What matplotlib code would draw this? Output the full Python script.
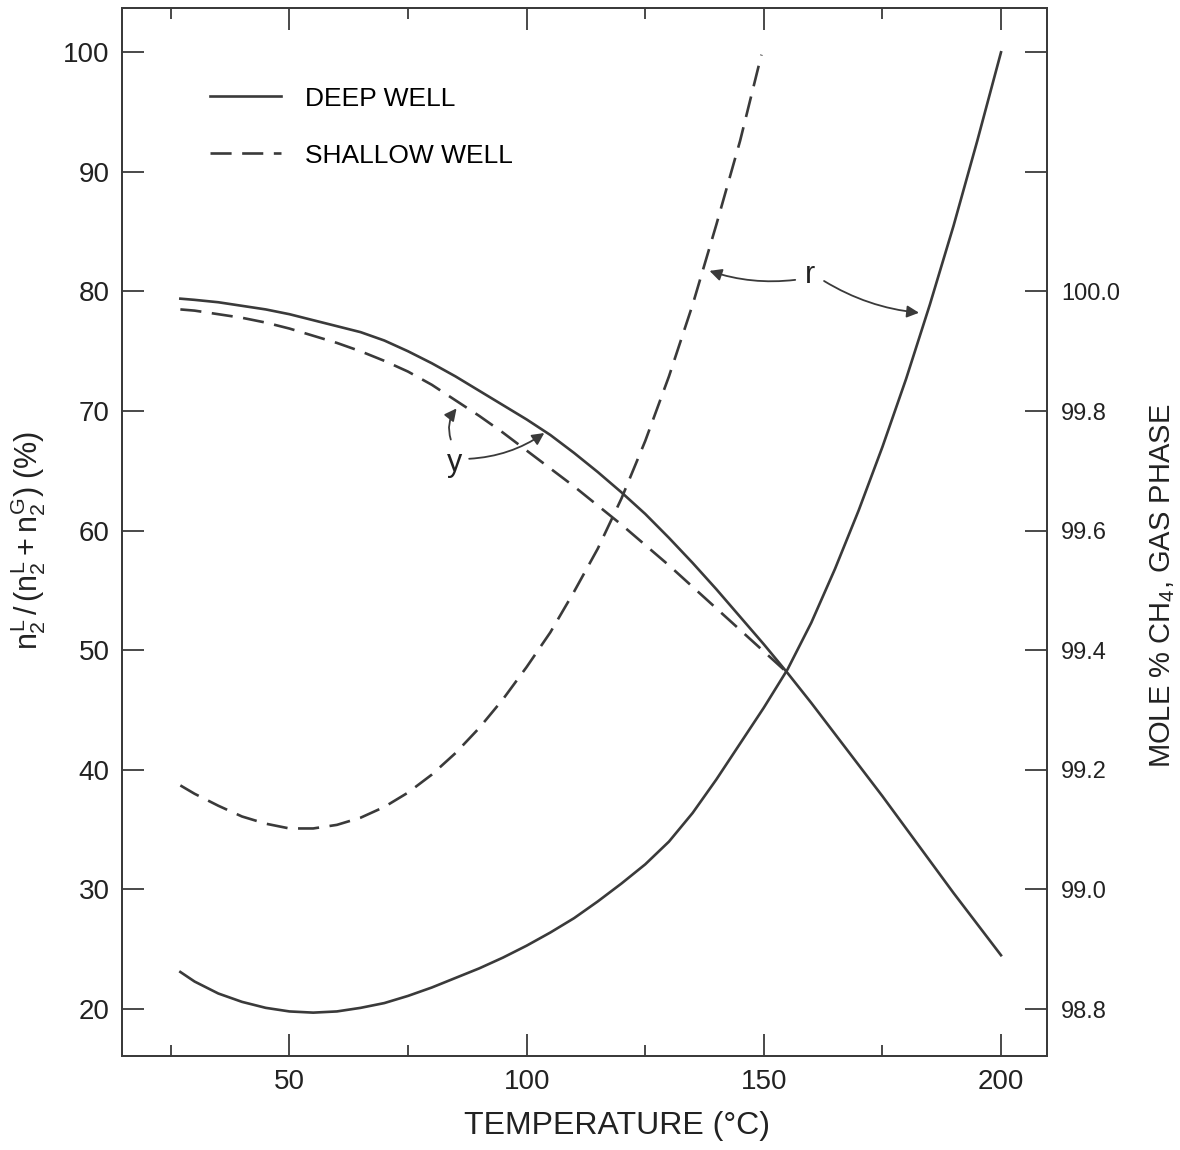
import numpy as np
from matplotlib import pyplot as plt

plt.rcParams['font.family'] = ['Liberation Sans', 'DejaVu Sans']
plt.rcParams['mathtext.fontset'] = 'custom'
plt.rcParams['mathtext.rm'] = 'Liberation Sans'
plt.rcParams['mathtext.it'] = 'Liberation Sans'

# y : fraction of component 2 in liquid (%), left axis
deep_y_t = [27, 30, 35, 40, 45, 50, 55, 60, 65, 70, 75, 80, 85, 90, 95, 100, 105, 110, 115, 120,
            125, 130, 135, 140, 145, 150, 155, 160, 165, 170, 175, 180, 185, 190, 195, 200]
deep_y = [79.4, 79.3, 79.1, 78.8, 78.5, 78.1, 77.6, 77.1, 76.6, 75.9, 75.0, 74.0, 72.9, 71.7, 70.5, 69.3,
          68.0, 66.5, 64.9, 63.2, 61.4, 59.4, 57.3, 55.1, 52.8, 50.5, 48.1, 45.6, 43.0, 40.4, 37.8,
          35.1, 32.4, 29.7, 27.1, 24.5]
shallow_y_t = [27, 30, 35, 40, 45, 50, 55, 60, 65, 70, 75, 80, 85, 90, 95, 100, 105, 110, 115, 120,
               125, 130, 135, 140, 145, 150, 155]
shallow_y = [78.5, 78.4, 78.1, 77.8, 77.4, 76.9, 76.3, 75.7, 75.0, 74.2, 73.3, 72.2, 70.9, 69.6, 68.2,
             66.7, 65.2, 63.7, 62.1, 60.5, 58.8, 57.1, 55.3, 53.5, 51.7, 49.9, 48.1]

# r : mole % CH4 in gas phase, right axis
deep_r_t = [27, 30, 35, 40, 45, 50, 55, 60, 65, 70, 75, 80, 85, 90, 95, 100, 105, 110, 115, 120,
            125, 130, 135, 140, 145, 150, 155, 160, 165, 170, 175, 180, 185, 190, 195, 200]
deep_r = [98.862, 98.846, 98.826, 98.812, 98.802, 98.796, 98.794, 98.796, 98.802, 98.810, 98.822,
          98.836, 98.852, 98.868, 98.886, 98.906, 98.928, 98.952, 98.980, 99.010, 99.042, 99.080,
          99.128, 99.184, 99.244, 99.304, 99.368, 99.446, 99.536, 99.634, 99.740, 99.854, 99.978,
          100.110, 100.252, 100.400]
shallow_r_t = [27, 30, 35, 40, 45, 50, 55, 60, 65, 70, 75, 80, 85, 90, 95, 100, 105, 110, 115, 120,
               125, 130, 135, 140, 145, 149.5]
shallow_r = [99.174, 99.160, 99.140, 99.122, 99.110, 99.102, 99.102, 99.108, 99.120, 99.138, 99.162,
             99.192, 99.228, 99.270, 99.318, 99.372, 99.430, 99.498, 99.570, 99.654, 99.750, 99.858,
             99.978, 100.112, 100.252, 100.396]

left_ticks = [20, 30, 40, 50, 60, 70, 80, 90, 100]
right_ticks = [98.8, 99.0, 99.2, 99.4, 99.6, 99.8, 100.0, 100.2, 100.4]
right_labels = ['98.8', '99.0', '99.2', '99.4', '99.6', '99.8', '100.0', '', '']

ink = '#3a3a3a'
lw = 1.9

fig = plt.figure(figsize=(11.8, 11.5), dpi=100)
ax = fig.add_axes([0.1034, 0.0817, 0.7839, 0.9113])
ax2 = ax.twinx()

ax.plot(deep_y_t, deep_y, color=ink, lw=lw, label='DEEP WELL')
ax.plot(shallow_y_t, shallow_y, color=ink, lw=lw, dashes=(8, 4), label='SHALLOW WELL')
ax2.plot(deep_r_t, deep_r, color=ink, lw=lw)
ax2.plot(shallow_r_t, shallow_r, color=ink, lw=lw, dashes=(8, 4))

ax.set_xlim(14.7, 209.7)
ax.set_ylim(16.07, 103.7)
ax2.set_ylim(98.8 + (16.07 - 20) * 0.02, 98.8 + (103.7 - 20) * 0.02)

ax.set_xticks([50, 100, 150, 200])
ax.set_xticks([25, 75, 125, 175], minor=True)
ax.set_yticks(left_ticks)
ax2.set_yticks(right_ticks)
ax2.set_yticklabels(right_labels)

ax.tick_params(axis='x', which='major', direction='in', length=16, width=1.3, top=True,
               labelsize=20, pad=9, color=ink, labelcolor='#222')
ax.tick_params(axis='x', which='minor', direction='in', length=8, width=1.3, top=True, color=ink)
ax.tick_params(axis='y', direction='in', length=16, width=1.3, labelsize=20, pad=9,
               color=ink, labelcolor='#222')
ax2.tick_params(axis='y', direction='in', length=16, width=1.3, labelsize=17, pad=10,
                color=ink, labelcolor='#222')

for a in (ax, ax2):
    for s in a.spines.values():
        s.set_color(ink)
        s.set_linewidth(1.3)

ax.set_xlabel('TEMPERATURE (°C)', fontsize=23, color='#222')
ax.xaxis.set_label_coords(0.535, -0.052)
ax.set_ylabel(r'$n_2^L\,/\,(n_2^L + n_2^G)$ (%)', fontsize=22, color='#222')
ax.yaxis.set_label_coords(-0.08, 0.492)
ax2.set_ylabel(r'MOLE % CH$_4$, GAS PHASE', fontsize=21, color='#222')
ax2.yaxis.set_label_coords(1.109, 0.449)

ax.legend(loc='upper left', bbox_to_anchor=(0.095, 0.925), frameon=False, fontsize=19,
          handlelength=2.7, handletextpad=0.9, labelspacing=1.25, borderpad=0, borderaxespad=0)

# curve labels with arrows
arw = dict(arrowstyle='-|>', color=ink, lw=1.3, mutation_scale=18)
ax.text(84.9, 65.7, 'y', fontsize=22, ha='center', va='center', color='#222')
ax.annotate('', xy=(85.6, 70.4), xytext=(84.2, 67.4),
            arrowprops=dict(arw, connectionstyle='arc3,rad=-0.3'))
ax.annotate('', xy=(104.2, 68.3), xytext=(87.3, 66.0),
            arrowprops=dict(arw, connectionstyle='arc3,rad=0.15'))
ax.text(159.8, 81.4, 'r', fontsize=22, ha='center', va='center', color='#222')
ax.annotate('', xy=(138.0, 81.8), xytext=(157.2, 81.0),
            arrowprops=dict(arw, connectionstyle='arc3,rad=-0.12'))
ax.annotate('', xy=(183.3, 78.2), xytext=(162.2, 81.0),
            arrowprops=dict(arw, connectionstyle='arc3,rad=0.12'))

fig.savefig('out.png', dpi=100)
